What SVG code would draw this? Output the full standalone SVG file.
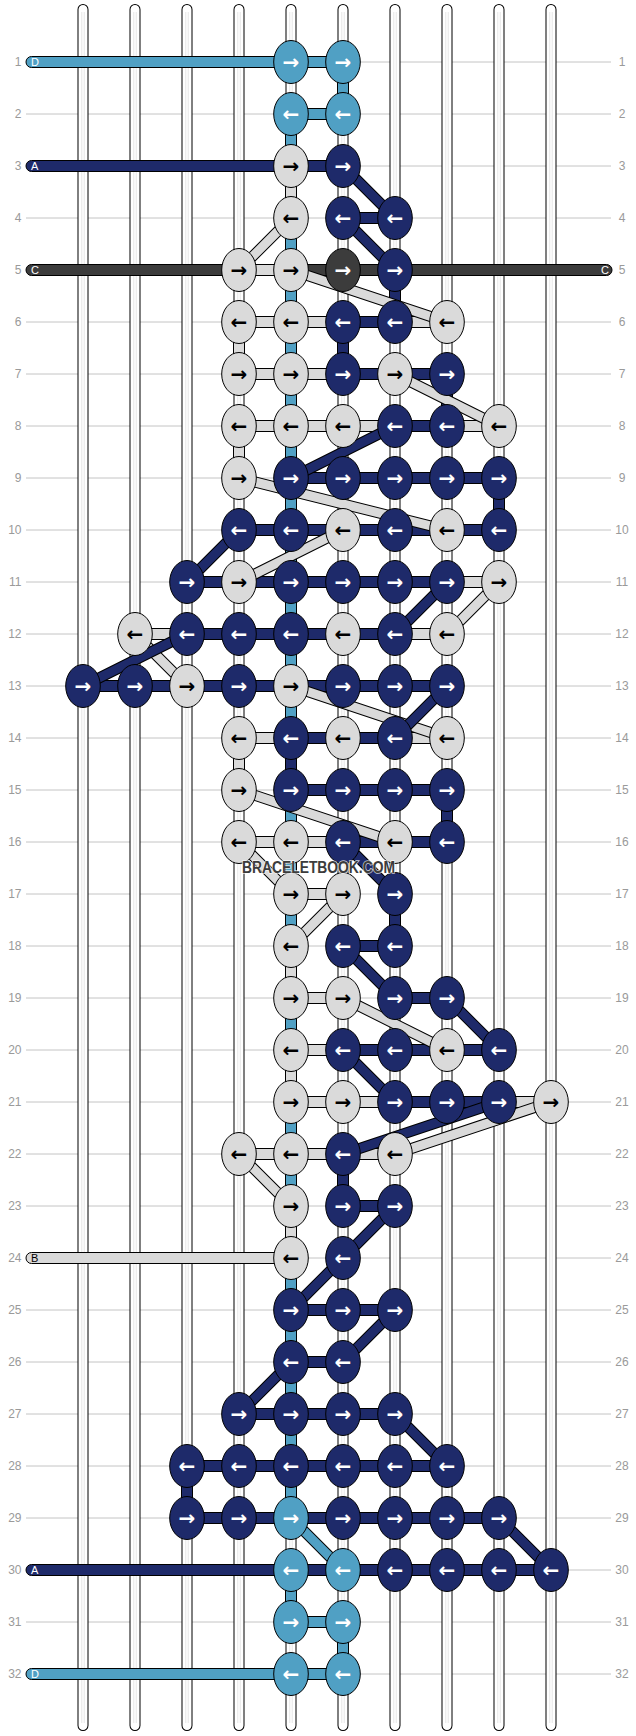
<svg xmlns="http://www.w3.org/2000/svg" width="636" height="1736" viewBox="0 0 636 1736">
<style>
.bg{fill:#fff}
.grid{stroke:#c4c4c4;stroke-width:1;fill:none}
.lbl{font-family:"Liberation Sans",Arial,sans-serif;font-size:12px;fill:#9a9a9a}
.lbl.l{text-anchor:end}
.lbl.r{text-anchor:middle}
.so{stroke:#000;stroke-width:11;stroke-linecap:round;fill:none}
.si{stroke:#fff;stroke-width:9;stroke-linecap:round;fill:none}
.sc{stroke:#dcdcdc;stroke-width:3;fill:none}
.sw{stroke:#fff;stroke-width:1.6;fill:none}
.L{fill:#50a0c4;stroke:#000;stroke-width:1}
.N{fill:#1e2a6a;stroke:#000;stroke-width:1}
.G{fill:#dadada;stroke:#000;stroke-width:1}
.D{fill:#3c3c3c;stroke:#000;stroke-width:1}
.dO{stroke:#000;stroke-width:11;fill:none}
.dG{stroke:#dadada;stroke-width:9;fill:none}
.dN{stroke:#1e2a6a;stroke-width:9;fill:none}
.dL{stroke:#50a0c4;stroke-width:9;fill:none}
.tl{font-family:"Liberation Sans",Arial,sans-serif;font-size:11px}
.tw{fill:#fff}
.tb{fill:#000}
.a{font-family:"DejaVu Sans",sans-serif;font-size:20px;font-weight:bold;text-anchor:middle}
.wm{font-family:"Liberation Sans",Arial,sans-serif;font-weight:bold;font-size:16px;fill:#3c3c3c;stroke:#fff;stroke-width:1.6;stroke-opacity:0.75;paint-order:stroke;text-anchor:middle}
</style>
<rect class="bg" x="0" y="0" width="636" height="1736"/>
<g id="grid">
<path class="grid" d="M26 62H611M26 114H611M26 166H611M26 218H611M26 270H611M26 322H611M26 374H611M26 426H611M26 478H611M26 530H611M26 582H611M26 634H611M26 686H611M26 738H611M26 790H611M26 842H611M26 894H611M26 946H611M26 998H611M26 1050H611M26 1102H611M26 1154H611M26 1206H611M26 1258H611M26 1310H611M26 1362H611M26 1414H611M26 1466H611M26 1518H611M26 1570H611M26 1622H611M26 1674H611"/>
</g>
<g id="row-labels">
<text class="lbl l" x="21.5" y="66.3">1</text><text class="lbl r" x="622" y="66.3">1</text>
<text class="lbl l" x="21.5" y="118.3">2</text><text class="lbl r" x="622" y="118.3">2</text>
<text class="lbl l" x="21.5" y="170.3">3</text><text class="lbl r" x="622" y="170.3">3</text>
<text class="lbl l" x="21.5" y="222.3">4</text><text class="lbl r" x="622" y="222.3">4</text>
<text class="lbl l" x="21.5" y="274.3">5</text><text class="lbl r" x="622" y="274.3">5</text>
<text class="lbl l" x="21.5" y="326.3">6</text><text class="lbl r" x="622" y="326.3">6</text>
<text class="lbl l" x="21.5" y="378.3">7</text><text class="lbl r" x="622" y="378.3">7</text>
<text class="lbl l" x="21.5" y="430.3">8</text><text class="lbl r" x="622" y="430.3">8</text>
<text class="lbl l" x="21.5" y="482.3">9</text><text class="lbl r" x="622" y="482.3">9</text>
<text class="lbl l" x="21.5" y="534.3">10</text><text class="lbl r" x="622" y="534.3">10</text>
<text class="lbl l" x="21.5" y="586.3">11</text><text class="lbl r" x="622" y="586.3">11</text>
<text class="lbl l" x="21.5" y="638.3">12</text><text class="lbl r" x="622" y="638.3">12</text>
<text class="lbl l" x="21.5" y="690.3">13</text><text class="lbl r" x="622" y="690.3">13</text>
<text class="lbl l" x="21.5" y="742.3">14</text><text class="lbl r" x="622" y="742.3">14</text>
<text class="lbl l" x="21.5" y="794.3">15</text><text class="lbl r" x="622" y="794.3">15</text>
<text class="lbl l" x="21.5" y="846.3">16</text><text class="lbl r" x="622" y="846.3">16</text>
<text class="lbl l" x="21.5" y="898.3">17</text><text class="lbl r" x="622" y="898.3">17</text>
<text class="lbl l" x="21.5" y="950.3">18</text><text class="lbl r" x="622" y="950.3">18</text>
<text class="lbl l" x="21.5" y="1002.3">19</text><text class="lbl r" x="622" y="1002.3">19</text>
<text class="lbl l" x="21.5" y="1054.3">20</text><text class="lbl r" x="622" y="1054.3">20</text>
<text class="lbl l" x="21.5" y="1106.3">21</text><text class="lbl r" x="622" y="1106.3">21</text>
<text class="lbl l" x="21.5" y="1158.3">22</text><text class="lbl r" x="622" y="1158.3">22</text>
<text class="lbl l" x="21.5" y="1210.3">23</text><text class="lbl r" x="622" y="1210.3">23</text>
<text class="lbl l" x="21.5" y="1262.3">24</text><text class="lbl r" x="622" y="1262.3">24</text>
<text class="lbl l" x="21.5" y="1314.3">25</text><text class="lbl r" x="622" y="1314.3">25</text>
<text class="lbl l" x="21.5" y="1366.3">26</text><text class="lbl r" x="622" y="1366.3">26</text>
<text class="lbl l" x="21.5" y="1418.3">27</text><text class="lbl r" x="622" y="1418.3">27</text>
<text class="lbl l" x="21.5" y="1470.3">28</text><text class="lbl r" x="622" y="1470.3">28</text>
<text class="lbl l" x="21.5" y="1522.3">29</text><text class="lbl r" x="622" y="1522.3">29</text>
<text class="lbl l" x="21.5" y="1574.3">30</text><text class="lbl r" x="622" y="1574.3">30</text>
<text class="lbl l" x="21.5" y="1626.3">31</text><text class="lbl r" x="622" y="1626.3">31</text>
<text class="lbl l" x="21.5" y="1678.3">32</text><text class="lbl r" x="622" y="1678.3">32</text>
</g>
<g id="strands">
<path class="so" d="M83 9.5V1725.5M135 9.5V1725.5M187 9.5V1725.5M239 9.5V1725.5M291 9.5V1725.5M343 9.5V1725.5M395 9.5V1725.5M447 9.5V1725.5M499 9.5V1725.5M551 9.5V1725.5"/>
<path class="si" d="M83 9.5V1725.5M135 9.5V1725.5M187 9.5V1725.5M239 9.5V1725.5M291 9.5V1725.5M343 9.5V1725.5M395 9.5V1725.5M447 9.5V1725.5M499 9.5V1725.5M551 9.5V1725.5"/>
<path class="sc" d="M83 12V1723M135 12V1723M187 12V1723M239 12V1723M291 12V1723M343 12V1723M395 12V1723M447 12V1723M499 12V1723M551 12V1723"/>
<path class="sw" d="M83 12V1723M135 12V1723M187 12V1723M239 12V1723M291 12V1723M343 12V1723M395 12V1723M447 12V1723M499 12V1723M551 12V1723"/>
</g>
<g id="threads">
<rect class="L" x="26" y="56.5" width="265" height="11" rx="5.5"/>
<text class="tl tw" x="31" y="66">D</text>
<rect class="N" x="26" y="160.5" width="265" height="11" rx="5.5"/>
<text class="tl tw" x="31" y="170">A</text>
<rect class="D" x="26" y="264.5" width="586" height="11" rx="5.5"/>
<text class="tl tw" x="31" y="274">C</text>
<text class="tl tw" x="609" y="274" text-anchor="end">C</text>
<rect class="G" x="26" y="1252.5" width="265" height="11" rx="5.5"/>
<text class="tl tb" x="31" y="1262">B</text>
<rect class="N" x="26" y="1564.5" width="265" height="11" rx="5.5"/>
<text class="tl tw" x="31" y="1574">A</text>
<rect class="L" x="26" y="1668.5" width="265" height="11" rx="5.5"/>
<text class="tl tw" x="31" y="1678">D</text>
</g>
<g id="connectors">
<rect class="L" x="285.5" y="114" width="11" height="1404"/>
<rect class="G" x="285.5" y="166" width="11" height="52"/>
<rect class="N" x="285.5" y="738" width="11" height="52"/>
<rect class="G" x="285.5" y="946" width="11" height="52"/>
<rect class="G" x="285.5" y="1050" width="11" height="52"/>
<rect class="G" x="285.5" y="1206" width="11" height="52"/>
<rect class="L" x="285.5" y="1570" width="11" height="52"/>
<rect class="L" x="337.5" y="62" width="11" height="52"/>
<rect class="L" x="337.5" y="1622" width="11" height="52"/>
<rect class="N" x="337.5" y="322" width="11" height="52"/>
<rect class="N" x="337.5" y="1154" width="11" height="52"/>
<rect class="N" x="389.5" y="270" width="11" height="52"/>
<rect class="N" x="389.5" y="894" width="11" height="52"/>
<rect class="G" x="233.5" y="322" width="11" height="52"/>
<rect class="G" x="233.5" y="426" width="11" height="52"/>
<rect class="G" x="233.5" y="738" width="11" height="52"/>
<rect class="N" x="441.5" y="374" width="11" height="52"/>
<rect class="N" x="441.5" y="790" width="11" height="52"/>
<rect class="N" x="493.5" y="478" width="11" height="52"/>
<rect class="N" x="181.5" y="1466" width="11" height="52"/>
<rect class="L" x="291" y="56.5" width="52" height="11"/>
<rect class="L" x="291" y="108.5" width="52" height="11"/>
<rect class="N" x="291" y="160.5" width="52" height="11"/>
<rect class="N" x="343" y="212.5" width="52" height="11"/>
<rect class="G" x="239" y="264.5" width="52" height="11"/>
<rect class="G" x="239" y="316.5" width="104" height="11"/>
<rect class="N" x="343" y="316.5" width="52" height="11"/>
<rect class="G" x="395" y="316.5" width="52" height="11"/>
<rect class="G" x="239" y="368.5" width="104" height="11"/>
<rect class="N" x="343" y="368.5" width="104" height="11"/>
<rect class="G" x="239" y="420.5" width="156" height="11"/>
<rect class="N" x="395" y="420.5" width="52" height="11"/>
<rect class="G" x="447" y="420.5" width="52" height="11"/>
<rect class="N" x="291" y="472.5" width="208" height="11"/>
<rect class="N" x="239" y="524.5" width="260" height="11"/>
<rect class="N" x="187" y="576.5" width="260" height="11"/>
<rect class="G" x="447" y="576.5" width="52" height="11"/>
<rect class="G" x="135" y="628.5" width="52" height="11"/>
<rect class="N" x="187" y="628.5" width="208" height="11"/>
<rect class="G" x="395" y="628.5" width="52" height="11"/>
<rect class="N" x="83" y="680.5" width="364" height="11"/>
<rect class="G" x="239" y="732.5" width="52" height="11"/>
<rect class="N" x="291" y="732.5" width="104" height="11"/>
<rect class="G" x="395" y="732.5" width="52" height="11"/>
<rect class="N" x="291" y="784.5" width="156" height="11"/>
<rect class="G" x="239" y="836.5" width="104" height="11"/>
<rect class="N" x="343" y="836.5" width="104" height="11"/>
<rect class="G" x="291" y="888.5" width="52" height="11"/>
<rect class="N" x="343" y="940.5" width="52" height="11"/>
<rect class="G" x="291" y="992.5" width="52" height="11"/>
<rect class="N" x="395" y="992.5" width="52" height="11"/>
<rect class="G" x="291" y="1044.5" width="52" height="11"/>
<rect class="N" x="343" y="1044.5" width="156" height="11"/>
<rect class="G" x="291" y="1096.5" width="104" height="11"/>
<rect class="N" x="395" y="1096.5" width="104" height="11"/>
<rect class="G" x="499" y="1096.5" width="52" height="11"/>
<rect class="G" x="239" y="1148.5" width="156" height="11"/>
<rect class="N" x="343" y="1200.5" width="52" height="11"/>
<rect class="N" x="291" y="1304.5" width="104" height="11"/>
<rect class="N" x="291" y="1356.5" width="52" height="11"/>
<rect class="N" x="239" y="1408.5" width="156" height="11"/>
<rect class="N" x="187" y="1460.5" width="260" height="11"/>
<rect class="N" x="187" y="1512.5" width="312" height="11"/>
<rect class="N" x="291" y="1564.5" width="260" height="11"/>
<rect class="L" x="291" y="1616.5" width="52" height="11"/>
<rect class="L" x="291" y="1668.5" width="52" height="11"/>
<path class="dO" d="M291 218L239 270M291 270L447 322M395 374L499 426M239 478L447 530M343 530L239 582M499 582L447 634M135 634L187 686M291 686L447 738M239 790L395 842M239 842L291 894M343 894L291 946M343 998L447 1050M551 1102L395 1154M239 1154L291 1206"/>
<path class="dG" d="M291 218L239 270M291 270L447 322M395 374L499 426M239 478L447 530M343 530L239 582M499 582L447 634M135 634L187 686M291 686L447 738M239 790L395 842M239 842L291 894M343 894L291 946M343 998L447 1050M551 1102L395 1154M239 1154L291 1206"/>
<path class="dO" d="M291 1518L343 1570"/>
<path class="dL" d="M291 1518L343 1570"/>
<path class="dO" d="M343 166L395 218M343 218L395 270M395 426L291 478M239 530L187 582M447 582L395 634M187 634L83 686M447 686L395 738M343 842L395 894M343 946L395 998M447 998L499 1050M343 1050L395 1102M499 1102L343 1154M395 1206L343 1258M343 1258L291 1310M395 1310L343 1362M291 1362L239 1414M395 1414L447 1466M499 1518L551 1570"/>
<path class="dN" d="M343 166L395 218M343 218L395 270M395 426L291 478M239 530L187 582M447 582L395 634M187 634L83 686M447 686L395 738M343 842L395 894M343 946L395 998M447 998L499 1050M343 1050L395 1102M499 1102L343 1154M395 1206L343 1258M343 1258L291 1310M395 1310L343 1362M291 1362L239 1414M395 1414L447 1466M499 1518L551 1570"/>
</g>
<g id="knots">
<g id="k1-4"><ellipse class="L" cx="291" cy="62" rx="17.3" ry="21.5"/><text class="a tw" x="291" y="69">→</text></g>
<g id="k1-5"><ellipse class="L" cx="343" cy="62" rx="17.3" ry="21.5"/><text class="a tw" x="343" y="69">→</text></g>
<g id="k2-4"><ellipse class="L" cx="291" cy="114" rx="17.3" ry="21.5"/><text class="a tw" x="291" y="121">←</text></g>
<g id="k2-5"><ellipse class="L" cx="343" cy="114" rx="17.3" ry="21.5"/><text class="a tw" x="343" y="121">←</text></g>
<g id="k3-4"><ellipse class="G" cx="291" cy="166" rx="17.3" ry="21.5"/><text class="a tb" x="291" y="173">→</text></g>
<g id="k3-5"><ellipse class="N" cx="343" cy="166" rx="17.3" ry="21.5"/><text class="a tw" x="343" y="173">→</text></g>
<g id="k4-4"><ellipse class="G" cx="291" cy="218" rx="17.3" ry="21.5"/><text class="a tb" x="291" y="225">←</text></g>
<g id="k4-5"><ellipse class="N" cx="343" cy="218" rx="17.3" ry="21.5"/><text class="a tw" x="343" y="225">←</text></g>
<g id="k4-6"><ellipse class="N" cx="395" cy="218" rx="17.3" ry="21.5"/><text class="a tw" x="395" y="225">←</text></g>
<g id="k5-3"><ellipse class="G" cx="239" cy="270" rx="17.3" ry="21.5"/><text class="a tb" x="239" y="277">→</text></g>
<g id="k5-4"><ellipse class="G" cx="291" cy="270" rx="17.3" ry="21.5"/><text class="a tb" x="291" y="277">→</text></g>
<g id="k5-5"><ellipse class="D" cx="343" cy="270" rx="17.3" ry="21.5"/><text class="a tw" x="343" y="277">→</text></g>
<g id="k5-6"><ellipse class="N" cx="395" cy="270" rx="17.3" ry="21.5"/><text class="a tw" x="395" y="277">→</text></g>
<g id="k6-3"><ellipse class="G" cx="239" cy="322" rx="17.3" ry="21.5"/><text class="a tb" x="239" y="329">←</text></g>
<g id="k6-4"><ellipse class="G" cx="291" cy="322" rx="17.3" ry="21.5"/><text class="a tb" x="291" y="329">←</text></g>
<g id="k6-5"><ellipse class="N" cx="343" cy="322" rx="17.3" ry="21.5"/><text class="a tw" x="343" y="329">←</text></g>
<g id="k6-6"><ellipse class="N" cx="395" cy="322" rx="17.3" ry="21.5"/><text class="a tw" x="395" y="329">←</text></g>
<g id="k6-7"><ellipse class="G" cx="447" cy="322" rx="17.3" ry="21.5"/><text class="a tb" x="447" y="329">←</text></g>
<g id="k7-3"><ellipse class="G" cx="239" cy="374" rx="17.3" ry="21.5"/><text class="a tb" x="239" y="381">→</text></g>
<g id="k7-4"><ellipse class="G" cx="291" cy="374" rx="17.3" ry="21.5"/><text class="a tb" x="291" y="381">→</text></g>
<g id="k7-5"><ellipse class="N" cx="343" cy="374" rx="17.3" ry="21.5"/><text class="a tw" x="343" y="381">→</text></g>
<g id="k7-6"><ellipse class="G" cx="395" cy="374" rx="17.3" ry="21.5"/><text class="a tb" x="395" y="381">→</text></g>
<g id="k7-7"><ellipse class="N" cx="447" cy="374" rx="17.3" ry="21.5"/><text class="a tw" x="447" y="381">→</text></g>
<g id="k8-3"><ellipse class="G" cx="239" cy="426" rx="17.3" ry="21.5"/><text class="a tb" x="239" y="433">←</text></g>
<g id="k8-4"><ellipse class="G" cx="291" cy="426" rx="17.3" ry="21.5"/><text class="a tb" x="291" y="433">←</text></g>
<g id="k8-5"><ellipse class="G" cx="343" cy="426" rx="17.3" ry="21.5"/><text class="a tb" x="343" y="433">←</text></g>
<g id="k8-6"><ellipse class="N" cx="395" cy="426" rx="17.3" ry="21.5"/><text class="a tw" x="395" y="433">←</text></g>
<g id="k8-7"><ellipse class="N" cx="447" cy="426" rx="17.3" ry="21.5"/><text class="a tw" x="447" y="433">←</text></g>
<g id="k8-8"><ellipse class="G" cx="499" cy="426" rx="17.3" ry="21.5"/><text class="a tb" x="499" y="433">←</text></g>
<g id="k9-3"><ellipse class="G" cx="239" cy="478" rx="17.3" ry="21.5"/><text class="a tb" x="239" y="485">→</text></g>
<g id="k9-4"><ellipse class="N" cx="291" cy="478" rx="17.3" ry="21.5"/><text class="a tw" x="291" y="485">→</text></g>
<g id="k9-5"><ellipse class="N" cx="343" cy="478" rx="17.3" ry="21.5"/><text class="a tw" x="343" y="485">→</text></g>
<g id="k9-6"><ellipse class="N" cx="395" cy="478" rx="17.3" ry="21.5"/><text class="a tw" x="395" y="485">→</text></g>
<g id="k9-7"><ellipse class="N" cx="447" cy="478" rx="17.3" ry="21.5"/><text class="a tw" x="447" y="485">→</text></g>
<g id="k9-8"><ellipse class="N" cx="499" cy="478" rx="17.3" ry="21.5"/><text class="a tw" x="499" y="485">→</text></g>
<g id="k10-3"><ellipse class="N" cx="239" cy="530" rx="17.3" ry="21.5"/><text class="a tw" x="239" y="537">←</text></g>
<g id="k10-4"><ellipse class="N" cx="291" cy="530" rx="17.3" ry="21.5"/><text class="a tw" x="291" y="537">←</text></g>
<g id="k10-5"><ellipse class="G" cx="343" cy="530" rx="17.3" ry="21.5"/><text class="a tb" x="343" y="537">←</text></g>
<g id="k10-6"><ellipse class="N" cx="395" cy="530" rx="17.3" ry="21.5"/><text class="a tw" x="395" y="537">←</text></g>
<g id="k10-7"><ellipse class="G" cx="447" cy="530" rx="17.3" ry="21.5"/><text class="a tb" x="447" y="537">←</text></g>
<g id="k10-8"><ellipse class="N" cx="499" cy="530" rx="17.3" ry="21.5"/><text class="a tw" x="499" y="537">←</text></g>
<g id="k11-2"><ellipse class="N" cx="187" cy="582" rx="17.3" ry="21.5"/><text class="a tw" x="187" y="589">→</text></g>
<g id="k11-3"><ellipse class="G" cx="239" cy="582" rx="17.3" ry="21.5"/><text class="a tb" x="239" y="589">→</text></g>
<g id="k11-4"><ellipse class="N" cx="291" cy="582" rx="17.3" ry="21.5"/><text class="a tw" x="291" y="589">→</text></g>
<g id="k11-5"><ellipse class="N" cx="343" cy="582" rx="17.3" ry="21.5"/><text class="a tw" x="343" y="589">→</text></g>
<g id="k11-6"><ellipse class="N" cx="395" cy="582" rx="17.3" ry="21.5"/><text class="a tw" x="395" y="589">→</text></g>
<g id="k11-7"><ellipse class="N" cx="447" cy="582" rx="17.3" ry="21.5"/><text class="a tw" x="447" y="589">→</text></g>
<g id="k11-8"><ellipse class="G" cx="499" cy="582" rx="17.3" ry="21.5"/><text class="a tb" x="499" y="589">→</text></g>
<g id="k12-1"><ellipse class="G" cx="135" cy="634" rx="17.3" ry="21.5"/><text class="a tb" x="135" y="641">←</text></g>
<g id="k12-2"><ellipse class="N" cx="187" cy="634" rx="17.3" ry="21.5"/><text class="a tw" x="187" y="641">←</text></g>
<g id="k12-3"><ellipse class="N" cx="239" cy="634" rx="17.3" ry="21.5"/><text class="a tw" x="239" y="641">←</text></g>
<g id="k12-4"><ellipse class="N" cx="291" cy="634" rx="17.3" ry="21.5"/><text class="a tw" x="291" y="641">←</text></g>
<g id="k12-5"><ellipse class="G" cx="343" cy="634" rx="17.3" ry="21.5"/><text class="a tb" x="343" y="641">←</text></g>
<g id="k12-6"><ellipse class="N" cx="395" cy="634" rx="17.3" ry="21.5"/><text class="a tw" x="395" y="641">←</text></g>
<g id="k12-7"><ellipse class="G" cx="447" cy="634" rx="17.3" ry="21.5"/><text class="a tb" x="447" y="641">←</text></g>
<g id="k13-0"><ellipse class="N" cx="83" cy="686" rx="17.3" ry="21.5"/><text class="a tw" x="83" y="693">→</text></g>
<g id="k13-1"><ellipse class="N" cx="135" cy="686" rx="17.3" ry="21.5"/><text class="a tw" x="135" y="693">→</text></g>
<g id="k13-2"><ellipse class="G" cx="187" cy="686" rx="17.3" ry="21.5"/><text class="a tb" x="187" y="693">→</text></g>
<g id="k13-3"><ellipse class="N" cx="239" cy="686" rx="17.3" ry="21.5"/><text class="a tw" x="239" y="693">→</text></g>
<g id="k13-4"><ellipse class="G" cx="291" cy="686" rx="17.3" ry="21.5"/><text class="a tb" x="291" y="693">→</text></g>
<g id="k13-5"><ellipse class="N" cx="343" cy="686" rx="17.3" ry="21.5"/><text class="a tw" x="343" y="693">→</text></g>
<g id="k13-6"><ellipse class="N" cx="395" cy="686" rx="17.3" ry="21.5"/><text class="a tw" x="395" y="693">→</text></g>
<g id="k13-7"><ellipse class="N" cx="447" cy="686" rx="17.3" ry="21.5"/><text class="a tw" x="447" y="693">→</text></g>
<g id="k14-3"><ellipse class="G" cx="239" cy="738" rx="17.3" ry="21.5"/><text class="a tb" x="239" y="745">←</text></g>
<g id="k14-4"><ellipse class="N" cx="291" cy="738" rx="17.3" ry="21.5"/><text class="a tw" x="291" y="745">←</text></g>
<g id="k14-5"><ellipse class="G" cx="343" cy="738" rx="17.3" ry="21.5"/><text class="a tb" x="343" y="745">←</text></g>
<g id="k14-6"><ellipse class="N" cx="395" cy="738" rx="17.3" ry="21.5"/><text class="a tw" x="395" y="745">←</text></g>
<g id="k14-7"><ellipse class="G" cx="447" cy="738" rx="17.3" ry="21.5"/><text class="a tb" x="447" y="745">←</text></g>
<g id="k15-3"><ellipse class="G" cx="239" cy="790" rx="17.3" ry="21.5"/><text class="a tb" x="239" y="797">→</text></g>
<g id="k15-4"><ellipse class="N" cx="291" cy="790" rx="17.3" ry="21.5"/><text class="a tw" x="291" y="797">→</text></g>
<g id="k15-5"><ellipse class="N" cx="343" cy="790" rx="17.3" ry="21.5"/><text class="a tw" x="343" y="797">→</text></g>
<g id="k15-6"><ellipse class="N" cx="395" cy="790" rx="17.3" ry="21.5"/><text class="a tw" x="395" y="797">→</text></g>
<g id="k15-7"><ellipse class="N" cx="447" cy="790" rx="17.3" ry="21.5"/><text class="a tw" x="447" y="797">→</text></g>
<g id="k16-3"><ellipse class="G" cx="239" cy="842" rx="17.3" ry="21.5"/><text class="a tb" x="239" y="849">←</text></g>
<g id="k16-4"><ellipse class="G" cx="291" cy="842" rx="17.3" ry="21.5"/><text class="a tb" x="291" y="849">←</text></g>
<g id="k16-5"><ellipse class="N" cx="343" cy="842" rx="17.3" ry="21.5"/><text class="a tw" x="343" y="849">←</text></g>
<g id="k16-6"><ellipse class="G" cx="395" cy="842" rx="17.3" ry="21.5"/><text class="a tb" x="395" y="849">←</text></g>
<g id="k16-7"><ellipse class="N" cx="447" cy="842" rx="17.3" ry="21.5"/><text class="a tw" x="447" y="849">←</text></g>
<g id="k17-4"><ellipse class="G" cx="291" cy="894" rx="17.3" ry="21.5"/><text class="a tb" x="291" y="901">→</text></g>
<g id="k17-5"><ellipse class="G" cx="343" cy="894" rx="17.3" ry="21.5"/><text class="a tb" x="343" y="901">→</text></g>
<g id="k17-6"><ellipse class="N" cx="395" cy="894" rx="17.3" ry="21.5"/><text class="a tw" x="395" y="901">→</text></g>
<g id="k18-4"><ellipse class="G" cx="291" cy="946" rx="17.3" ry="21.5"/><text class="a tb" x="291" y="953">←</text></g>
<g id="k18-5"><ellipse class="N" cx="343" cy="946" rx="17.3" ry="21.5"/><text class="a tw" x="343" y="953">←</text></g>
<g id="k18-6"><ellipse class="N" cx="395" cy="946" rx="17.3" ry="21.5"/><text class="a tw" x="395" y="953">←</text></g>
<g id="k19-4"><ellipse class="G" cx="291" cy="998" rx="17.3" ry="21.5"/><text class="a tb" x="291" y="1005">→</text></g>
<g id="k19-5"><ellipse class="G" cx="343" cy="998" rx="17.3" ry="21.5"/><text class="a tb" x="343" y="1005">→</text></g>
<g id="k19-6"><ellipse class="N" cx="395" cy="998" rx="17.3" ry="21.5"/><text class="a tw" x="395" y="1005">→</text></g>
<g id="k19-7"><ellipse class="N" cx="447" cy="998" rx="17.3" ry="21.5"/><text class="a tw" x="447" y="1005">→</text></g>
<g id="k20-4"><ellipse class="G" cx="291" cy="1050" rx="17.3" ry="21.5"/><text class="a tb" x="291" y="1057">←</text></g>
<g id="k20-5"><ellipse class="N" cx="343" cy="1050" rx="17.3" ry="21.5"/><text class="a tw" x="343" y="1057">←</text></g>
<g id="k20-6"><ellipse class="N" cx="395" cy="1050" rx="17.3" ry="21.5"/><text class="a tw" x="395" y="1057">←</text></g>
<g id="k20-7"><ellipse class="G" cx="447" cy="1050" rx="17.3" ry="21.5"/><text class="a tb" x="447" y="1057">←</text></g>
<g id="k20-8"><ellipse class="N" cx="499" cy="1050" rx="17.3" ry="21.5"/><text class="a tw" x="499" y="1057">←</text></g>
<g id="k21-4"><ellipse class="G" cx="291" cy="1102" rx="17.3" ry="21.5"/><text class="a tb" x="291" y="1109">→</text></g>
<g id="k21-5"><ellipse class="G" cx="343" cy="1102" rx="17.3" ry="21.5"/><text class="a tb" x="343" y="1109">→</text></g>
<g id="k21-6"><ellipse class="N" cx="395" cy="1102" rx="17.3" ry="21.5"/><text class="a tw" x="395" y="1109">→</text></g>
<g id="k21-7"><ellipse class="N" cx="447" cy="1102" rx="17.3" ry="21.5"/><text class="a tw" x="447" y="1109">→</text></g>
<g id="k21-8"><ellipse class="N" cx="499" cy="1102" rx="17.3" ry="21.5"/><text class="a tw" x="499" y="1109">→</text></g>
<g id="k21-9"><ellipse class="G" cx="551" cy="1102" rx="17.3" ry="21.5"/><text class="a tb" x="551" y="1109">→</text></g>
<g id="k22-3"><ellipse class="G" cx="239" cy="1154" rx="17.3" ry="21.5"/><text class="a tb" x="239" y="1161">←</text></g>
<g id="k22-4"><ellipse class="G" cx="291" cy="1154" rx="17.3" ry="21.5"/><text class="a tb" x="291" y="1161">←</text></g>
<g id="k22-5"><ellipse class="N" cx="343" cy="1154" rx="17.3" ry="21.5"/><text class="a tw" x="343" y="1161">←</text></g>
<g id="k22-6"><ellipse class="G" cx="395" cy="1154" rx="17.3" ry="21.5"/><text class="a tb" x="395" y="1161">←</text></g>
<g id="k23-4"><ellipse class="G" cx="291" cy="1206" rx="17.3" ry="21.5"/><text class="a tb" x="291" y="1213">→</text></g>
<g id="k23-5"><ellipse class="N" cx="343" cy="1206" rx="17.3" ry="21.5"/><text class="a tw" x="343" y="1213">→</text></g>
<g id="k23-6"><ellipse class="N" cx="395" cy="1206" rx="17.3" ry="21.5"/><text class="a tw" x="395" y="1213">→</text></g>
<g id="k24-4"><ellipse class="G" cx="291" cy="1258" rx="17.3" ry="21.5"/><text class="a tb" x="291" y="1265">←</text></g>
<g id="k24-5"><ellipse class="N" cx="343" cy="1258" rx="17.3" ry="21.5"/><text class="a tw" x="343" y="1265">←</text></g>
<g id="k25-4"><ellipse class="N" cx="291" cy="1310" rx="17.3" ry="21.5"/><text class="a tw" x="291" y="1317">→</text></g>
<g id="k25-5"><ellipse class="N" cx="343" cy="1310" rx="17.3" ry="21.5"/><text class="a tw" x="343" y="1317">→</text></g>
<g id="k25-6"><ellipse class="N" cx="395" cy="1310" rx="17.3" ry="21.5"/><text class="a tw" x="395" y="1317">→</text></g>
<g id="k26-4"><ellipse class="N" cx="291" cy="1362" rx="17.3" ry="21.5"/><text class="a tw" x="291" y="1369">←</text></g>
<g id="k26-5"><ellipse class="N" cx="343" cy="1362" rx="17.3" ry="21.5"/><text class="a tw" x="343" y="1369">←</text></g>
<g id="k27-3"><ellipse class="N" cx="239" cy="1414" rx="17.3" ry="21.5"/><text class="a tw" x="239" y="1421">→</text></g>
<g id="k27-4"><ellipse class="N" cx="291" cy="1414" rx="17.3" ry="21.5"/><text class="a tw" x="291" y="1421">→</text></g>
<g id="k27-5"><ellipse class="N" cx="343" cy="1414" rx="17.3" ry="21.5"/><text class="a tw" x="343" y="1421">→</text></g>
<g id="k27-6"><ellipse class="N" cx="395" cy="1414" rx="17.3" ry="21.5"/><text class="a tw" x="395" y="1421">→</text></g>
<g id="k28-2"><ellipse class="N" cx="187" cy="1466" rx="17.3" ry="21.5"/><text class="a tw" x="187" y="1473">←</text></g>
<g id="k28-3"><ellipse class="N" cx="239" cy="1466" rx="17.3" ry="21.5"/><text class="a tw" x="239" y="1473">←</text></g>
<g id="k28-4"><ellipse class="N" cx="291" cy="1466" rx="17.3" ry="21.5"/><text class="a tw" x="291" y="1473">←</text></g>
<g id="k28-5"><ellipse class="N" cx="343" cy="1466" rx="17.3" ry="21.5"/><text class="a tw" x="343" y="1473">←</text></g>
<g id="k28-6"><ellipse class="N" cx="395" cy="1466" rx="17.3" ry="21.5"/><text class="a tw" x="395" y="1473">←</text></g>
<g id="k28-7"><ellipse class="N" cx="447" cy="1466" rx="17.3" ry="21.5"/><text class="a tw" x="447" y="1473">←</text></g>
<g id="k29-2"><ellipse class="N" cx="187" cy="1518" rx="17.3" ry="21.5"/><text class="a tw" x="187" y="1525">→</text></g>
<g id="k29-3"><ellipse class="N" cx="239" cy="1518" rx="17.3" ry="21.5"/><text class="a tw" x="239" y="1525">→</text></g>
<g id="k29-4"><ellipse class="L" cx="291" cy="1518" rx="17.3" ry="21.5"/><text class="a tw" x="291" y="1525">→</text></g>
<g id="k29-5"><ellipse class="N" cx="343" cy="1518" rx="17.3" ry="21.5"/><text class="a tw" x="343" y="1525">→</text></g>
<g id="k29-6"><ellipse class="N" cx="395" cy="1518" rx="17.3" ry="21.5"/><text class="a tw" x="395" y="1525">→</text></g>
<g id="k29-7"><ellipse class="N" cx="447" cy="1518" rx="17.3" ry="21.5"/><text class="a tw" x="447" y="1525">→</text></g>
<g id="k29-8"><ellipse class="N" cx="499" cy="1518" rx="17.3" ry="21.5"/><text class="a tw" x="499" y="1525">→</text></g>
<g id="k30-4"><ellipse class="L" cx="291" cy="1570" rx="17.3" ry="21.5"/><text class="a tw" x="291" y="1577">←</text></g>
<g id="k30-5"><ellipse class="L" cx="343" cy="1570" rx="17.3" ry="21.5"/><text class="a tw" x="343" y="1577">←</text></g>
<g id="k30-6"><ellipse class="N" cx="395" cy="1570" rx="17.3" ry="21.5"/><text class="a tw" x="395" y="1577">←</text></g>
<g id="k30-7"><ellipse class="N" cx="447" cy="1570" rx="17.3" ry="21.5"/><text class="a tw" x="447" y="1577">←</text></g>
<g id="k30-8"><ellipse class="N" cx="499" cy="1570" rx="17.3" ry="21.5"/><text class="a tw" x="499" y="1577">←</text></g>
<g id="k30-9"><ellipse class="N" cx="551" cy="1570" rx="17.3" ry="21.5"/><text class="a tw" x="551" y="1577">←</text></g>
<g id="k31-4"><ellipse class="L" cx="291" cy="1622" rx="17.3" ry="21.5"/><text class="a tw" x="291" y="1629">→</text></g>
<g id="k31-5"><ellipse class="L" cx="343" cy="1622" rx="17.3" ry="21.5"/><text class="a tw" x="343" y="1629">→</text></g>
<g id="k32-4"><ellipse class="L" cx="291" cy="1674" rx="17.3" ry="21.5"/><text class="a tw" x="291" y="1681">←</text></g>
<g id="k32-5"><ellipse class="L" cx="343" cy="1674" rx="17.3" ry="21.5"/><text class="a tw" x="343" y="1681">←</text></g>
</g>
<text id="watermark" class="wm" x="318.5" y="873" textLength="153" lengthAdjust="spacingAndGlyphs">BRACELETBOOK.COM</text>
</svg>
